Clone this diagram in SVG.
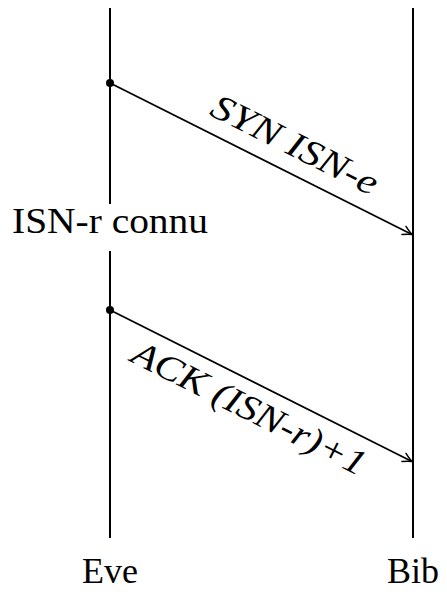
<svg xmlns="http://www.w3.org/2000/svg" width="447" height="592" viewBox="0 0 447 592">
  <style>
    .life { stroke: #000; stroke-width: 2; fill: none; }
    .msg { stroke: #000; stroke-width: 1.7; fill: none; }
    .lbl { font-family: "Liberation Serif", "Times New Roman", serif; font-size: 36px; fill: #000; }
    .it { font-style: italic; }
  </style>
  <defs>
    <marker id="to" markerUnits="userSpaceOnUse" markerWidth="14" markerHeight="12" refX="0" refY="0" viewBox="-12 -6 14 12" orient="auto">
      <path d="M -9,-4.5 Q -3,-1 0,0 Q -3,1 -9,4.5" stroke="#000" stroke-width="1.5" fill="none" stroke-linecap="round"/>
    </marker>
  </defs>
  <g id="eve">
    <line class="life" x1="110" y1="8" x2="110" y2="204"/>
    <line class="life" x1="110" y1="251" x2="110" y2="538"/>
    <text class="lbl" x="110" y="583" text-anchor="middle">Eve</text>
  </g>
  <g id="bib">
    <line class="life" x1="413" y1="8" x2="413" y2="538"/>
    <text class="lbl" x="413" y="583" text-anchor="middle">Bib</text>
  </g>
  <g id="isn-r-connu">
    <text class="lbl" x="12" y="233" textLength="196" lengthAdjust="spacingAndGlyphs">ISN-r connu</text>
  </g>
  <g id="connectors">
    <circle cx="110" cy="83" r="4"/>
    <line class="msg" x1="110" y1="83" x2="412" y2="234.5" marker-end="url(#to)"/>
    <circle cx="110" cy="310" r="4"/>
    <line class="msg" x1="110" y1="310" x2="412" y2="461.5" marker-end="url(#to)"/>
    <text class="lbl it" transform="translate(289.7,155.2) rotate(26.64)" text-anchor="middle" textLength="182" lengthAdjust="spacingAndGlyphs">SYN ISN-e</text>
    <text class="lbl it" transform="translate(244,418.7) rotate(26.64)" text-anchor="middle" textLength="257" lengthAdjust="spacingAndGlyphs">ACK (ISN-r)+1</text>
  </g>
</svg>
